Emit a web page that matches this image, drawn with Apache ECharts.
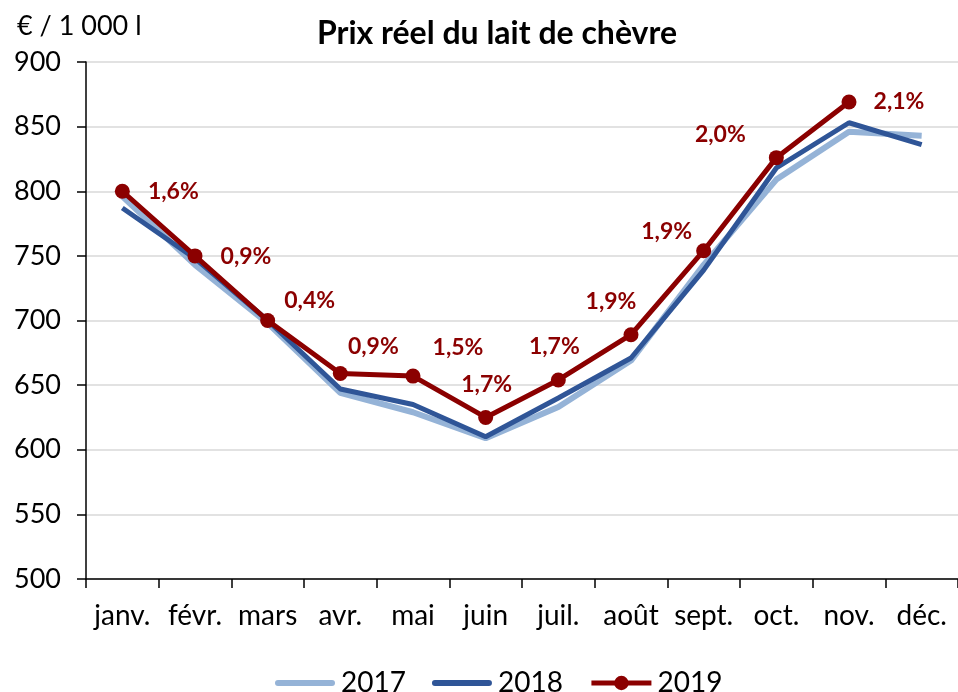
<!DOCTYPE html>
<html>
<head>
<meta charset="utf-8">
<script src="https://cdn.jsdelivr.net/npm/echarts@6/dist/echarts.min.js"></script>
<style>
  html, body { margin: 0; padding: 0; background: #fff; }
  #chart { width: 958px; height: 692px; }
</style>
</head>
<body>
<div id="chart"></div>
<script>
var months = ['janv.', 'févr.', 'mars', 'avr.', 'mai', 'juin', 'juil.', 'août', 'sept.', 'oct.', 'nov.', 'déc.'];
var prix2017 = [796, 743, 698, 644, 629, 609, 633, 669, 743, 809, 846, 843];
var prix2018 = [787, 748, 700, 647, 635, 610, 640, 671, 739, 818, 853, 836];
var prix2019 = [800, 750, 700, 659, 657, 625, 654, 689, 754, 826, 869];
var variations = ['1,6%', '0,9%', '0,4%', '0,9%', '1,5%', '1,7%', '1,7%', '1,9%', '1,9%', '2,0%', '2,1%'];

var font = 'Lato, "Open Sans", sans-serif';
var label_offsets = [[51, 0], [51, 1], [42, -20], [33, -27], [45, -28], [1, -33],
                     [-4, -33], [-20, -33], [-37, -19], [-56, -23], [50, 0]];
var bar_icon = 'path://M3,0 H57 A3,3 0 0 1 57,6 H3 A3,3 0 0 1 3,0 Z';

var data2019 = prix2019.map(function (v, i) {
    return {
        value: v,
        label: {
            show: true,
            position: 'inside',
            offset: label_offsets[i],
            formatter: variations[i]
        }
    };
});

var chart = echarts.init(document.getElementById('chart'));

var option = {
    animation: false,
    backgroundColor: '#fff',
    title: {
        text: 'Prix réel du lait de chèvre',
        left: 492,
        top: 13,
        textAlign: 'center',
        textStyle: {
            fontFamily: font,
            fontWeight: 'bold',
            fontSize: 32,
            color: '#000'
        }
    },
    graphic: [{
        type: 'text',
        left: 17,
        top: 13,
        style: {
            text: '€ / 1 000 l',
            font: '27px ' + font,
            fill: '#000'
        }
    }],
    legend: {
        bottom: -10,
        left: 270,
        itemWidth: 60,
        itemHeight: 18,
        itemGap: 26,
        lineStyle: { width: 'inherit' },
        textStyle: {
            fontFamily: font,
            fontSize: 28,
            color: '#000',
            padding: [0, 0, 0, 1]
        },
        data: [
            { name: '2017', icon: bar_icon },
            { name: '2018', icon: bar_icon },
            { name: '2019' }
        ]
    },
    grid: {
        left: 86,
        right: -7,
        top: 62,
        bottom: 113
    },
    xAxis: {
        type: 'category',
        data: months,
        boundaryGap: true,
        axisLine: { lineStyle: { color: '#000', width: 1.5 } },
        axisTick: { show: true, interval: 0, length: 9, lineStyle: { color: '#000', width: 1.5 } },
        axisLabel: {
            interval: 0,
            fontFamily: font,
            fontSize: 28,
            color: '#000',
            margin: 23
        }
    },
    yAxis: {
        type: 'value',
        min: 500,
        max: 900,
        interval: 50,
        axisLine: { show: true, lineStyle: { color: '#000', width: 1.5 } },
        axisTick: { show: true, length: 9, lineStyle: { color: '#000', width: 1.5 } },
        splitLine: { lineStyle: { color: '#d9d9d9', width: 1.5 } },
        axisLabel: {
            fontFamily: font,
            fontSize: 27,
            color: '#000',
            margin: 25
        }
    },
    series: [
        {
            name: '2017',
            type: 'line',
            data: prix2017,
            symbol: 'none',
            color: '#95b3d7',
            lineStyle: { width: 6, color: '#95b3d7' }
        },
        {
            name: '2018',
            type: 'line',
            data: prix2018,
            symbol: 'none',
            color: '#2f5597',
            lineStyle: { width: 5, color: '#2f5597' }
        },
        {
            name: '2019',
            type: 'line',
            data: data2019,
            symbol: 'circle',
            symbolSize: 15,
            color: '#8b0000',
            itemStyle: { color: '#8b0000' },
            lineStyle: { width: 5, color: '#8b0000' },
            label: {
                fontFamily: font,
                fontWeight: 'bold',
                fontSize: 23,
                color: '#8b0000'
            }
        }
    ]
};

chart.setOption(option);
</script>
</body>
</html>
